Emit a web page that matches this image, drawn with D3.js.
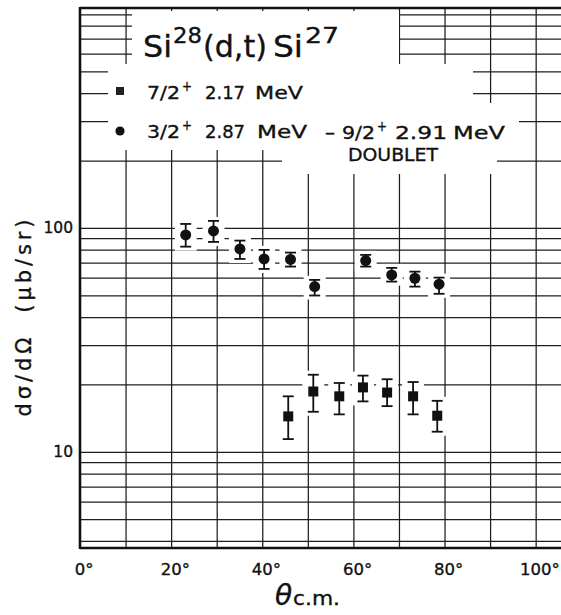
<!DOCTYPE html>
<html lang="en">
<head>
<meta charset="UTF-8">
<title>Si28(d,t)Si27 angular distributions</title>
<script src="https://d3js.org/d3.v7.min.js"></script>
<style>
  body { margin: 0; background: #fff; }
  svg text { font-family: "DejaVu Sans", sans-serif; fill: #111; stroke: #111; stroke-width: 0.35px; }
</style>
</head>
<body>
<div id="chart"></div>
<script>
// 3/2+ 2.87 MeV - 9/2+ 2.91 MeV doublet (circles)
const doubletAngle = [23.2, 29.3, 35.1, 40.4, 46.2, 51.5, 62.7, 68.4, 73.5, 78.8];
const doubletValue = [93.1, 97.0, 80.6, 72.7, 72.3, 54.7, 71.5, 61.7, 59.6, 56.1];
const doubletLow   = [82.5, 86.6, 72.7, 65.6, 67.2, 49.9, 67.2, 57.6, 54.7, 50.8];
const doubletHigh  = [104.2, 107.5, 87.8, 79.8, 77.6, 58.6, 75.8, 66.3, 63.8, 60.0];

// 7/2+ 2.17 MeV state (squares)
const stateAngle = [45.7, 51.2, 56.9, 62.1, 67.4, 73.1, 78.4];
const stateValue = [14.4, 18.6, 17.7, 19.4, 18.4, 17.7, 14.5];
const stateLow   = [11.4, 15.1, 14.7, 16.8, 16.0, 14.7, 12.3];
const stateHigh  = [17.7, 22.1, 20.3, 21.9, 21.1, 20.5, 16.9];

// ticks and grid
const xTickLabels = [0, 20, 40, 60, 80, 100];
const xGridLines = [10, 20, 30, 40, 50, 60, 70, 80, 90, 100];
const yTickLabels = [10, 100];
const yGridLines = [4, 5, 6, 7, 8, 9, 10, 20, 30, 40, 50, 60, 70, 80, 90,
                    100, 200, 300, 400, 500, 600, 700, 800, 900];

const width = 561, height = 615;
const xMin = 0, xMax = 106, yMin = 3.72, yMax = 960;

const x = d3.scaleLinear().domain([xMin, xMax]).range([80, 563]);
const y = d3.scaleLog().domain([yMin, yMax]).range([548, 8]);

const svg = d3.select("#chart").append("svg")
  .attr("width", width)
  .attr("height", height);

svg.append("rect").attr("width", width).attr("height", height).attr("fill", "#fff");

// grid lines from axes
const gridH = svg.append("g")
  .attr("transform", `translate(${x(xMin)},0)`)
  .call(d3.axisLeft(y).tickValues(yGridLines).tickSize(-(width - x(xMin))).tickFormat(""));
const gridV = svg.append("g")
  .attr("transform", `translate(0,${y(yMin)})`)
  .call(d3.axisBottom(x).tickValues(xGridLines).tickSize(-(y(yMin) - y(yMax))).tickFormat(""));
[gridH, gridV].forEach(g => {
  g.select(".domain").remove();
  g.selectAll("line").attr("stroke", "#1e1e1e").attr("stroke-width", 1.25);
});

// blank areas behind the title and legend (grid lines were cut there)
const blanks = [
  [132, 11, 399, 150],
  [108, 64, 473, 150],
  [108, 103, 519, 150],
  [282, 150, 497, 174]
];
svg.append("g").selectAll("rect").data(blanks).join("rect")
  .attr("x", d => d[0]).attr("y", d => d[1])
  .attr("width", d => d[2] - d[0]).attr("height", d => d[3] - d[1])
  .attr("fill", "#fff");

// white halos around each data point
const allPoints = [
  ...doubletAngle.map((a, i) => ({a, lo: doubletLow[i], hi: doubletHigh[i]})),
  ...stateAngle.map((a, i) => ({a, lo: stateLow[i], hi: stateHigh[i]}))
];
svg.append("g").selectAll("rect").data(allPoints).join("rect")
  .attr("x", d => x(d.a) - 11)
  .attr("y", d => y(d.hi) - 4)
  .attr("width", 22)
  .attr("height", d => y(d.lo) - y(d.hi) + 8)
  .attr("fill", "#fff");

// frame
const frame = svg.append("g").attr("stroke", "#111").attr("stroke-width", 2.6);
frame.append("line").attr("x1", x(xMin)).attr("x2", width).attr("y1", y(yMax)).attr("y2", y(yMax));
frame.append("line").attr("x1", x(xMin)).attr("x2", width).attr("y1", y(yMin)).attr("y2", y(yMin));
frame.append("line").attr("x1", x(xMin)).attr("x2", x(xMin)).attr("y1", y(yMax) - 1).attr("y2", y(yMin) + 1);

// error bars
function errorBars(angle, low, high) {
  const g = svg.append("g").attr("stroke", "#111").attr("stroke-width", 1.8);
  g.selectAll("line.bar").data(angle).join("line").attr("class", "bar")
    .attr("x1", d => x(d)).attr("x2", d => x(d))
    .attr("y1", (d, i) => y(low[i])).attr("y2", (d, i) => y(high[i]));
  g.selectAll("line.lo").data(angle).join("line").attr("class", "lo")
    .attr("x1", d => x(d) - 5.5).attr("x2", d => x(d) + 5.5)
    .attr("y1", (d, i) => y(low[i])).attr("y2", (d, i) => y(low[i]));
  g.selectAll("line.hi").data(angle).join("line").attr("class", "hi")
    .attr("x1", d => x(d) - 5.5).attr("x2", d => x(d) + 5.5)
    .attr("y1", (d, i) => y(high[i])).attr("y2", (d, i) => y(high[i]));
}
errorBars(doubletAngle, doubletLow, doubletHigh);
errorBars(stateAngle, stateLow, stateHigh);

svg.append("g").selectAll("circle").data(doubletAngle).join("circle")
  .attr("cx", d => x(d))
  .attr("cy", (d, i) => y(doubletValue[i]))
  .attr("r", 5.5)
  .attr("fill", "#111");

svg.append("g").selectAll("rect").data(stateAngle).join("rect")
  .attr("x", d => x(d) - 5)
  .attr("y", (d, i) => y(stateValue[i]) - 5)
  .attr("width", 10).attr("height", 10)
  .attr("fill", "#111");

// tick labels
const xLabels = svg.append("g")
  .attr("transform", `translate(0,${y(yMin)})`)
  .call(d3.axisBottom(x).tickValues(xTickLabels).tickSize(0).tickPadding(15).tickFormat(d => d + "°"));
xLabels.select(".domain").remove();
xLabels.selectAll("text")
  .attr("font-size", 16.5).attr("font-family", "DejaVu Sans").attr("fill", "#111")
  .attr("dx", "0.22em");

const yLabels = svg.append("g")
  .attr("transform", `translate(${x(xMin)},0)`)
  .call(d3.axisLeft(y).tickValues(yTickLabels).tickSize(0).tickPadding(7).tickFormat(d3.format("d")));
yLabels.select(".domain").remove();
yLabels.selectAll("text")
  .attr("font-size", 15.5).attr("font-family", "DejaVu Sans").attr("fill", "#111");

// axis titles
svg.append("text")
  .attr("transform", "translate(31,318) rotate(-90)")
  .attr("text-anchor", "middle")
  .attr("font-size", 21)
  .style("white-space", "pre")
  .attr("textLength", 197).attr("lengthAdjust", "spacing")
  .text("dσ/dΩ  (μb/sr)");

svg.append("text").attr("x", 275).attr("y", 605)
  .attr("font-size", 28).attr("font-style", "italic")
  .text("θ");
svg.append("text").attr("x", 293).attr("y", 605)
  .attr("font-size", 20).attr("textLength", 47).attr("lengthAdjust", "spacingAndGlyphs")
  .text("c.m.");

// title and legend text pieces: [text, x, baseline, size, width]
const labelPieces = [
  ["Si", 143, 57, 30, 29],
  ["28", 173, 43, 21, 29],
  ["(d,t)", 203, 57, 30, 64],
  ["Si", 273, 57, 30, 30],
  ["27", 305, 43, 21, 34],
  ["7/2", 147, 99, 18, 33],
  ["+", 182, 91, 14, 10],
  ["2.17", 205, 99, 18, 40],
  ["MeV", 255, 99, 18, 48],
  ["3/2", 147, 138, 18, 33],
  ["+", 182, 130, 14, 10],
  ["2.87", 205, 138, 18, 40],
  ["MeV", 257, 138, 18, 50],
  ["–", 325, 138, 18, 10],
  ["9/2", 342, 139, 18, 33],
  ["+", 377, 131, 14, 10],
  ["2.91", 395, 139, 18, 52],
  ["MeV", 453, 139, 18, 52],
  ["DOUBLET", 348, 161, 18, 90]
];
svg.append("g").selectAll("text").data(labelPieces).join("text")
  .attr("x", d => d[1]).attr("y", d => d[2])
  .attr("font-size", d => d[3])
  .attr("textLength", d => d[4]).attr("lengthAdjust", "spacingAndGlyphs")
  .text(d => d[0]);

// legend symbols
svg.append("rect").attr("x", 116).attr("y", 87).attr("width", 8).attr("height", 8).attr("fill", "#222");
svg.append("circle").attr("cx", 120).attr("cy", 131).attr("r", 4.6).attr("fill", "#111");
</script>
</body>
</html>
